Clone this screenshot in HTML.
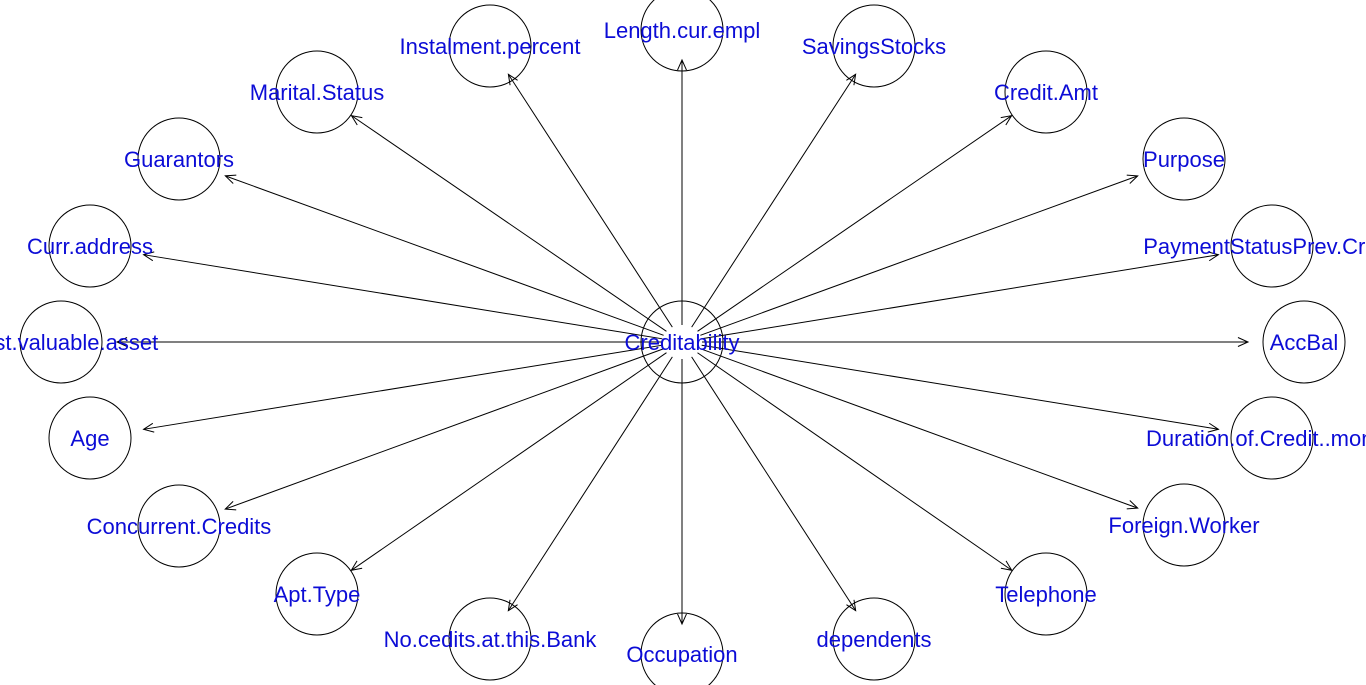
<!DOCTYPE html>
<html><head><meta charset="utf-8"><style>
html,body{margin:0;padding:0;background:#fff;overflow:hidden}
svg{display:block}
text{font-family:"Liberation Sans",Arial,sans-serif;font-size:22px;fill:#0c0cd6}
</style></head><body>
<svg id="chart" width="1366" height="685" viewBox="0 0 1366 685" xmlns="http://www.w3.org/2000/svg"></svg>
<script>
const centerName = "Creditability";
const nodeNames = ["Length.cur.empl","SavingsStocks","Credit.Amt","Purpose","PaymentStatusPrev.Credit","AccBal","Duration.of.Credit..month.","Foreign.Worker","Telephone","dependents","Occupation","No.cedits.at.this.Bank","Apt.Type","Concurrent.Credits","Age","Most.valuable.asset","Curr.address","Guarantors","Marital.Status","Instalment.percent"];
const nodeX = [682,874,1046,1184,1272,1304,1272,1184,1046,874,682,490,317,179,90,61,90,179,317,490];
const nodeY = [30,46,92,159,246,342,438,525,594,639,654,639,594,526,438,342,246,159,92,46];
const labelDX = [0,0,0,0,0,0,0,0,0,0,0,0,0,0,0,0,0,0,0,0];
const cx = 682, cy = 342, R = 41;
const NS = "http://www.w3.org/2000/svg";
const svg = document.getElementById('chart');
function mk(tag, attrs){const e=document.createElementNS(NS,tag);for(const k in attrs)e.setAttribute(k,attrs[k]);return e;}
const gE = mk('g',{});


const gN = mk('g',{});


svg.appendChild(gE); svg.appendChild(gN);
nodeNames.forEach((n,i)=>{
  const dx=nodeX[i]-cx, dy=nodeY[i]-cy, L=Math.hypot(dx,dy), ux=dx/L, uy=dy/L;
  const off=1/Math.sqrt((ux/56)**2+(uy/30)**2);
  const st=1/Math.sqrt((ux/20)**2+(uy/17)**2);
  const sx=cx+ux*st, sy=cy+uy*st, ex=nodeX[i]-ux*off, ey=nodeY[i]-uy*off;
  const g=mk('g',{});
  
  
  g.appendChild(mk('line',{x1:sx,y1:sy,x2:ex,y2:ey,stroke:'#000','stroke-width':1}));
  const a=11, w=0.42;
  const ca=Math.cos(w), sa=Math.sin(w);
  const bx=-ux, by=-uy;
  const p1=[ex+a*(bx*ca-by*sa), ey+a*(bx*sa+by*ca)];
  const p2=[ex+a*(bx*ca+by*sa), ey+a*(-bx*sa+by*ca)];
  g.appendChild(mk('polyline',{points:`${p1[0]},${p1[1]} ${ex},${ey} ${p2[0]},${p2[1]}`,fill:'none',stroke:'#000','stroke-width':1}));
  gE.appendChild(g);
});
function node(name,x,y,dxl){
  const g=mk('g',{});
  
  
  g.appendChild(mk('circle',{cx:x,cy:y,r:R,fill:'none',stroke:'#000','stroke-width':1}));
  const t=mk('text',{x:x+dxl,y:y+8,'text-anchor':'middle'});
  t.textContent=name;
  g.appendChild(t);
  gN.appendChild(g);
}
node(centerName,cx,cy,0);
nodeNames.forEach((n,i)=>node(n,nodeX[i],nodeY[i],labelDX[i]));
</script>
</body></html>
